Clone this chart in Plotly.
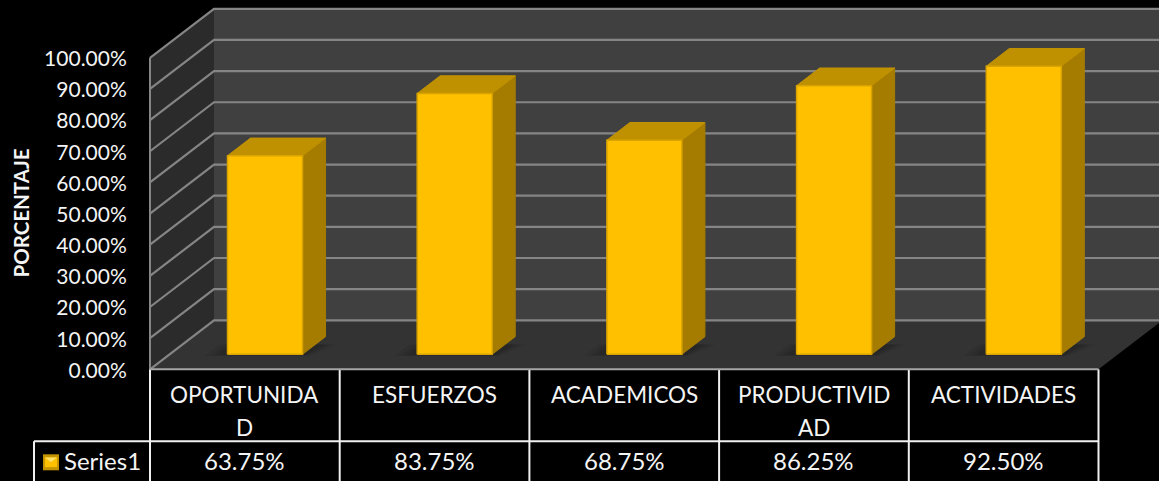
import plotly.graph_objects as go

# Chart data
categories = ["OPORTUNIDAD", "ESFUERZOS", "ACADEMICOS", "PRODUCTIVIDAD", "ACTIVIDADES"]
category_lines = [["OPORTUNIDA", "D"], ["ESFUERZOS"], ["ACADEMICOS"], ["PRODUCTIVID", "AD"], ["ACTIVIDADES"]]
values = [63.75, 83.75, 68.75, 86.25, 92.50]
value_labels = ["63.75%", "83.75%", "68.75%", "86.25%", "92.50%"]
series_name = "Series1"
tick_values = [0, 10, 20, 30, 40, 50, 60, 70, 80, 90, 100]
tick_labels = ["0.00%", "10.00%", "20.00%", "30.00%", "40.00%", "50.00%",
               "60.00%", "70.00%", "80.00%", "90.00%", "100.00%"]
axis_title = "PORCENTAJE"

# Canvas and scale of the oblique projection
WIDTH, HEIGHT = 1159, 481
ORIGIN_X, ORIGIN_Y = 150, 369.3
CAT_PX, VAL_PX = 189.7, 3.115
DEPTH_X = 64 / CAT_PX      # category units shifted per full depth
DEPTH_Y = 49 / VAL_PX      # value units shifted per full depth
BAR_WIDTH = 75 / CAT_PX
BAR_CENTER = 0.503
BAR_NEAR, BAR_FAR = 0.306, 0.666
ROW_1 = -72 / VAL_PX       # line between the category row and the value row
TABLE_BOTTOM = -(HEIGHT - ORIGIN_Y) / VAL_PX
KEY_LEFT = -116 / CAT_PX
TICK_SHIFT = 1 / VAL_PX    # tick labels sit slightly below their gridline ends

FONT = "Lato"
TEXT = "#F4F4F4"
GRID = "#858585"


def project(x, v, d):
    return x + d * DEPTH_X, v + d * DEPTH_Y


def poly(points, fill, line=None, width=0):
    xs = [p[0] for p in points] + [points[0][0]]
    ys = [p[1] for p in points] + [points[0][1]]
    return go.Scatter(x=xs, y=ys, mode="lines", fill="toself", fillcolor=fill,
                      line=dict(color=line or fill, width=width),
                      hoverinfo="skip", showlegend=False)


def seg(x0, y0, x1, y1, color, width):
    return go.Scatter(x=[x0, x1], y=[y0, y1], mode="lines",
                      line=dict(color=color, width=width),
                      hoverinfo="skip", showlegend=False)


n = len(categories)
fig = go.Figure()

# Walls and floor
fig.add_trace(poly([project(0, 0, 1), project(n + 1, 0, 1), project(n + 1, 100, 1), project(0, 100, 1)], "#404040"))
fig.add_trace(poly([project(0, 0, 0), project(0, 0, 1), project(0, 100, 1), project(0, 100, 0)], "#2B2B2B"))
fig.add_trace(poly([project(0, 0, 0), project(n, 0, 0), project(n, 0, 1), project(0, 0, 1)], "#333333"))

# Gridlines across the side wall and the back wall
for t in tick_values:
    a = project(0, t, 0)
    b = project(0, t, 1)
    c = project(n + 1, t, 1)
    fig.add_trace(go.Scatter(x=[a[0], b[0], c[0]], y=[a[1], b[1], c[1]], mode="lines",
                             line=dict(color=GRID, width=2.2), hoverinfo="skip", showlegend=False))
fig.add_trace(seg(0, 0, 0, 100, GRID, 2))

# Soft contact shadows on the floor
for i in range(n):
    left = i + BAR_CENTER - BAR_WIDTH / 2
    right = left + BAR_WIDTH
    for grow, alpha in [(0.34, 0.10), (0.24, 0.14), (0.15, 0.18)]:
        g = grow * 0.32
        fig.add_trace(poly([project(left - g, 0, BAR_NEAR - grow * 0.1),
                            project(right + g * 0.4, 0, BAR_NEAR - grow * 0.1),
                            project(right + g, 0, BAR_NEAR + 0.2),
                            project(left - g, 0, BAR_NEAR + 0.2)],
                           f"rgba(20,20,20,{alpha})"))

# Bars: side, top and front faces
for i, v in enumerate(values):
    left = i + BAR_CENTER - BAR_WIDTH / 2
    right = left + BAR_WIDTH
    fig.add_trace(poly([project(right, 0, BAR_NEAR), project(right, 0, BAR_FAR),
                        project(right, v, BAR_FAR), project(right, v, BAR_NEAR)],
                       "#A57C00", "#A57C00", 1))
    fig.add_trace(poly([project(left, v, BAR_NEAR), project(right, v, BAR_NEAR),
                        project(right, v, BAR_FAR), project(left, v, BAR_FAR)],
                       "#BF9000", "#C39300", 1))
    fig.add_trace(poly([project(left, 0, BAR_NEAR), project(right, 0, BAR_NEAR),
                        project(right, v, BAR_NEAR), project(left, v, BAR_NEAR)],
                       "#FFC000", "#D9A300", 1.5))

# Data table rules
for i in range(n + 1):
    fig.add_trace(seg(i, 0, i, TABLE_BOTTOM, "#F0F0F0", 2))
fig.add_trace(seg(KEY_LEFT, ROW_1, n, ROW_1, "#F0F0F0", 2))
fig.add_trace(seg(KEY_LEFT, ROW_1, KEY_LEFT, TABLE_BOTTOM, "#F0F0F0", 2))
fig.add_trace(seg(0, 0, n, 0, "#A6A6A6", 2))

# Legend key in the table's first column
kx0, kx1 = -107 / CAT_PX, -91 / CAT_PX
ky0, ky1 = -101 / VAL_PX, -85 / VAL_PX
kxm = (kx0 + kx1) / 2
kym = (ky0 + ky1) / 2
fig.add_trace(poly([(kx0, ky0), (kx1, ky0), (kx1, ky1), (kx0, ky1)], "#C49400"))
fig.add_trace(poly([(kx0 + 0.01, ky0 + 1), (kx1 - 0.01, ky0 + 1), (kx1 - 0.01, ky1 - 1), (kx0 + 0.01, ky1 - 1)], "#FFC000"))
fig.add_trace(poly([(kx0 + 0.01, ky1 - 1), (kx1 - 0.01, ky1 - 1), (kxm, kym)], "#FFE168"))

# Invisible trace that keeps the labelled value axis drawn
fig.add_trace(go.Scatter(x=[0], y=[0], yaxis="y2", mode="markers", marker=dict(opacity=0),
                         hoverinfo="skip", showlegend=False))

annotations = []


def label(x, y, text, size=22.5, **kw):
    annotations.append(dict(x=x, y=y, xref="x", yref="y", text=text, showarrow=False,
                            font=dict(family=FONT, size=size, color=TEXT), **kw))


# Category row and value row
ROW_TOP_LINE = -25 / VAL_PX
ROW_LOW_LINE = -58 / VAL_PX
VALUE_LINE = -91 / VAL_PX
for i, lines in enumerate(category_lines):
    label(i + 0.5, ROW_TOP_LINE, lines[0])
    if len(lines) > 1:
        label(i + 0.5, ROW_LOW_LINE, lines[1])
    label(i + 0.5, VALUE_LINE, value_labels[i], size=24)
label(-88 / CAT_PX, VALUE_LINE, series_name, size=24, xanchor="left")

# Rotated axis title
annotations.append(dict(x=20.5 / WIDTH, y=1 - 213 / HEIGHT, xref="paper", yref="paper",
                        text=f"<b>{axis_title}</b>", textangle=-90, showarrow=False,
                        xanchor="center", yanchor="middle",
                        font=dict(family=FONT, size=20.5, color=TEXT)))

y_range = [(ORIGIN_Y - HEIGHT) / VAL_PX, ORIGIN_Y / VAL_PX]

fig.update_layout(
    width=WIDTH, height=HEIGHT, margin=dict(l=0, r=0, t=0, b=0),
    paper_bgcolor="#000000", plot_bgcolor="#000000", showlegend=False,
    annotations=annotations,
    xaxis=dict(range=[-ORIGIN_X / CAT_PX, (WIDTH - ORIGIN_X) / CAT_PX], visible=False, fixedrange=True),
    yaxis=dict(range=y_range, visible=False, fixedrange=True),
    yaxis2=dict(range=[y_range[0] + TICK_SHIFT, y_range[1] + TICK_SHIFT], overlaying="y", anchor="free",
                position=ORIGIN_X / WIDTH, side="left", showgrid=False, zeroline=False,
                showline=False, tickmode="array", tickvals=tick_values, ticktext=tick_labels,
                ticks="outside", ticklen=19, tickcolor="rgba(0,0,0,0)",
                tickfont=dict(family=FONT, size=21, color=TEXT), fixedrange=True),
)

fig.write_html("out.html", config={"displayModeBar": False})
